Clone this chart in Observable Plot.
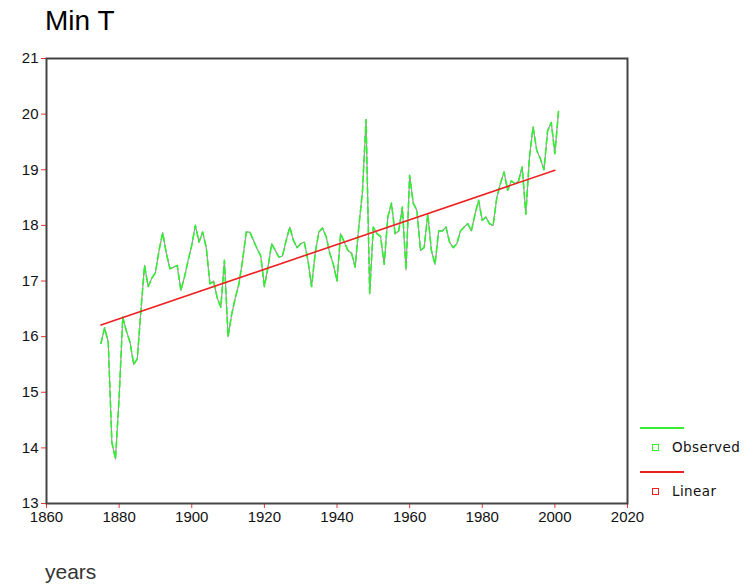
<!DOCTYPE html>
<html><head><meta charset="utf-8">
<script src="https://cdn.jsdelivr.net/npm/d3@7"></script>
<script src="https://cdn.jsdelivr.net/npm/@observablehq/plot@0.6"></script>
<style>
body{margin:0;background:#fff;}
#wrap{position:relative;width:753px;height:587px;overflow:hidden;font-family:"Liberation Sans",Arial,sans-serif;}
#chart{position:absolute;left:0;top:0;}
#title{position:absolute;left:45px;top:5px;font-size:28px;color:#000;}
#xlab{position:absolute;left:45px;top:560px;font-size:21px;color:#333;}
.lg-line{position:absolute;left:640px;width:44px;height:0;border-top:2px solid;}
.lg-sq{position:absolute;left:652px;width:5px;height:5px;border:1px solid;}
.lg-txt{position:absolute;left:672px;font-family:"DejaVu Sans",sans-serif;font-size:13.5px;color:#111;letter-spacing:0.4px;}
</style></head><body>
<div id="wrap">
  <div id="chart"></div>
  <div id="title">Min T</div>
  <div id="xlab">years</div>
  <div id="legend"></div>
</div>
<script>
const firstYear = 1875;
const observed = [
  15.88, 16.16, 15.9, 14.1, 13.8, 14.9, 16.35, 16.1, 15.9, 15.5,
  15.6, 16.47, 17.28, 16.9, 17.05, 17.15, 17.55, 17.87, 17.5, 17.22,
  17.25, 17.28, 16.83, 17.07, 17.37, 17.64, 18.0, 17.7, 17.88, 17.6,
  16.95, 17.0, 16.7, 16.53, 17.37, 16.0, 16.4, 16.7, 16.95, 17.37,
  17.88, 17.88, 17.73, 17.58, 17.45, 16.9, 17.25, 17.67, 17.55, 17.43,
  17.45, 17.73, 17.97, 17.73, 17.6, 17.67, 17.7, 17.37, 16.9, 17.5,
  17.88, 17.95, 17.8, 17.5, 17.3, 17.0, 17.85, 17.7, 17.55, 17.5,
  17.25, 17.97, 18.6, 19.9, 16.77, 17.97, 17.85, 17.8, 17.3, 18.15,
  18.4, 17.85, 17.9, 18.33, 17.2, 18.9, 18.4, 18.27, 17.55, 17.6,
  18.2, 17.55, 17.3, 17.9, 17.9, 17.97, 17.7, 17.6, 17.67, 17.9,
  17.97, 18.03, 17.9, 18.2, 18.45, 18.09, 18.15, 18.03, 18.0, 18.5,
  18.75, 18.96, 18.63, 18.8, 18.75, 18.8, 19.05, 18.2, 19.23, 19.77,
  19.35, 19.2, 19.0, 19.7, 19.85, 19.29, 20.05
];
const trendYears = [1875, 2000];
const trendValues = [16.21, 18.99];
const xTicks = [1860, 1880, 1900, 1920, 1940, 1960, 1980, 2000, 2020];
const yTicks = [13, 14, 15, 16, 17, 18, 19, 20, 21];
const seriesNames = ["Observed", "Linear"];
const seriesColors = ["#33ee33", "#ee2020"];

const obs = observed.map((v, i) => ({year: firstYear + i, value: v}));
const trend = trendYears.map((y, i) => ({year: y, value: trendValues[i]}));

const chart = Plot.plot({
  width: 753, height: 587,
  marginLeft: 46, marginRight: 126, marginTop: 58, marginBottom: 84,
  x: {domain: [1860, 2020]},
  y: {domain: [13, 21]},
  style: {fontFamily: "'Liberation Sans', Arial, sans-serif", background: "transparent", color: "#111"},
  marks: [
    Plot.axisX({ticks: xTicks, tickFormat: d => String(d), tickSize: 5, tickPadding: 3, stroke: "#e33", fill: "#111", fontSize: 15, label: null}),
    Plot.axisY({ticks: yTicks, tickSize: 5, tickPadding: 3, stroke: "#e33", fill: "#111", fontSize: 15, label: null}),
    Plot.line(obs, {x: "year", y: "value", stroke: "#9a9a9a", strokeWidth: 1.2}),
    Plot.line(obs, {x: "year", y: "value", stroke: seriesColors[0], strokeWidth: 1.6, strokeDasharray: "6,4"}),
    Plot.line(trend, {x: "year", y: "value", stroke: seriesColors[1], strokeWidth: 1.6}),
    Plot.frame({stroke: "#444", strokeWidth: 2})
  ]
});
document.getElementById("chart").appendChild(chart);

const lg = document.getElementById("legend");
seriesNames.forEach((name, i) => {
  const top = 427 + i * 44;
  lg.insertAdjacentHTML("beforeend",
    `<div class="lg-line" style="top:${top}px;border-color:${seriesColors[i]}"></div>` +
    `<div class="lg-sq" style="top:${top + 17}px;border-color:${seriesColors[i]}"></div>` +
    `<div class="lg-txt" style="top:${top + 12}px">${name}</div>`);
});
</script>
</body></html>
